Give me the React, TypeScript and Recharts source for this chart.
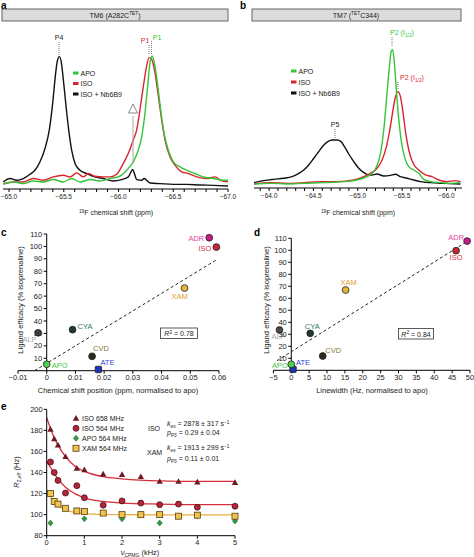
import React from 'react';
import {
	LineChart,
	Line,
	XAxis,
	YAxis,
	ScatterChart,
	Scatter,
	ComposedChart,
	ReferenceLine,
} from 'recharts';

const FONT = '"Liberation Sans", Arial, Helvetica, sans-serif';
const GREEN = '#35c43a';
const RED = '#d8252c';
const BLACK = '#111111';

// panel a: TM6 (A282C-TET) spectra, ppm vs intensity (% of tallest peak)
const aApoPpm = [-64.948, -65.04, -65.131, -65.222, -65.314, -65.405, -65.496, -65.572, -65.648, -65.74, -65.831, -65.922, -65.998, -66.075, -66.135, -66.181, -66.212, -66.242, -66.266, -66.288, -66.306, -66.327, -66.355, -66.385, -66.416, -66.455, -66.501, -66.562, -66.623, -66.699, -66.775, -66.866, -66.957, -67.003];
const aApoInt = [-1.9, 0, -1.3, 0.8, 0, 1.9, 0, 2.7, 0, 1.9, 0.8, 2.7, 4, 9.3, 16, 25.3, 36, 54.7, 76, 94.7, 100, 94.7, 78.7, 57.3, 38.7, 25.3, 16, 12, 9.3, 6.7, 4, 2.7, 1.3, 1.3];
const aIsoPpm = [-64.948, -65.04, -65.131, -65.222, -65.314, -65.405, -65.496, -65.557, -65.618, -65.679, -65.725, -65.785, -65.861, -65.922, -65.983, -66.044, -66.09, -66.135, -66.166, -66.196, -66.227, -66.257, -66.279, -66.303, -66.333, -66.364, -66.394, -66.425, -66.47, -66.516, -66.577, -66.638, -66.714, -66.805, -66.881, -66.942, -67.003];
const aIsoInt = [-1.3, 0, 0, 2.7, 1.3, 4, 5.3, 4, 7.2, 4, 6.7, 4.5, 4, 4, 6.1, 14.7, 22.7, 33.3, 41.3, 57.3, 76, 92, 98.7, 97.3, 86.7, 68, 49.3, 33.3, 20, 13.3, 8, 6.7, 4, 2.7, 4, 0.8, 0];
const aNbPpm = [-64.948, -65.009, -65.07, -65.131, -65.192, -65.237, -65.283, -65.329, -65.368, -65.399, -65.423, -65.441, -65.46, -65.478, -65.496, -65.521, -65.545, -65.572, -65.603, -65.648, -65.709, -65.785, -65.861, -65.953, -66.029, -66.09, -66.114, -66.129, -66.145, -66.166, -66.212, -66.233, -66.288, -66.379, -66.501, -66.623, -66.744, -66.866, -67.003];
const aNbInt = [0, 2.7, 1.3, 2.7, 6.1, 9.3, 16, 26.7, 41.3, 62.7, 84, 96, 99.5, 94.7, 81.3, 60, 41.3, 25.3, 14.7, 9.3, 6.7, 4, 2.7, 0.8, 1.9, 4, 8, 9.9, 6.7, 1.9, 1.3, 2.7, -0.8, -1.3, -1.9, -1.9, -2.4, -2.7, -3.2];
const aTicks = [-65.0, -65.1, -65.2, -65.3, -65.4, -65.5, -65.6, -65.7, -65.8, -65.9, -66.0, -66.1, -66.2, -66.3, -66.4, -66.5, -66.6, -66.7, -66.8, -66.9, -67.0];

// panel b: TM7 (TET-C344) spectra
const bApoPpm = [-63.83, -64.015, -64.203, -64.391, -64.617, -64.842, -64.992, -65.105, -65.162, -65.211, -65.256, -65.293, -65.323, -65.353, -65.376, -65.391, -65.41, -65.432, -65.459, -65.489, -65.526, -65.575, -65.632, -65.688, -65.744, -65.82, -65.932, -66.045, -66.158];
const bApoInt = [-1, -0.5, -1, -0.5, 0, 0.8, 2, 4.5, 7, 12, 22, 39.5, 62, 84.5, 98.3, 100, 92, 72, 49.5, 32, 19.5, 12, 9.5, 7, 2.5, 0.8, 0, -0.5, 0];
const bIsoPpm = [-63.83, -64.015, -64.203, -64.391, -64.579, -64.767, -64.955, -65.068, -65.143, -65.218, -65.274, -65.323, -65.361, -65.391, -65.421, -65.455, -65.481, -65.511, -65.541, -65.575, -65.624, -65.688, -65.763, -65.838, -65.914, -66.008, -66.102, -66.158];
const bIsoInt = [-1, 0, -0.5, 0, 0.8, 0.8, 2, 4.5, 7, 10.8, 17, 27, 39.5, 52, 63.3, 68.3, 64.5, 52, 37, 24.5, 14.5, 9.5, 5.8, 4.5, 2, 0.8, 1.5, 0.8];
const bNbPpm = [-63.83, -63.94, -64.053, -64.165, -64.259, -64.335, -64.391, -64.447, -64.504, -64.56, -64.617, -64.662, -64.711, -64.767, -64.812, -64.85, -64.898, -64.955, -65.011, -65.068, -65.143, -65.218, -65.293, -65.368, -65.425, -65.481, -65.556, -65.632, -65.707, -65.82, -65.97, -66.158];
const bNbInt = [0, 1.5, 2.5, 3.3, 4.5, 7, 9.5, 13.3, 18.3, 23.3, 28.3, 30.8, 32, 32, 30.8, 27, 21.5, 15.8, 10.8, 7.5, 5.5, 6.5, 5, 5.5, 6.3, 4.5, 3.3, 2, 0.8, 0, -0.5, -1];
const bTicks = [-63.9, -64.0, -64.1, -64.2, -64.3, -64.4, -64.5, -64.6, -64.7, -64.8, -64.9, -65.0, -65.1, -65.2, -65.3, -65.4, -65.5, -65.6, -65.7, -65.8, -65.9, -66.0, -66.1];

// panels c, d: ligand efficacy
const compounds = ['ADR', 'ISO', 'XAM', 'CYA', 'ALP', 'CVD', 'ATE', 'APO'];
const cShift = [0.0566, 0.0591, 0.048, 0.009, -0.003, 0.0158, 0.018, 0];
const cEfficacy = [107, 99.5, 66.5, 33, 30.5, 11.6, 1, 5.2];
const dLinewidth = [49.2, 46.1, 15.2, 5.3, -3.3, 8.8, 0.5, 0];
const dEfficacy = [107.7, 99.7, 66.9, 30.8, 33.6, 11.9, 0.8, 5];
const cFitX = [-0.0042, 0.059];
const cFitY = [0, 89];
const dFitX = [-4, 49.5];
const dFitY = [8, 108];
const cXTicks = [-0.01, 0, 0.01, 0.02, 0.03, 0.04, 0.05, 0.06];
const dXTicks = [-5, 0, 5, 10, 15, 20, 25, 30, 35, 40, 45, 50];
const effTicks = [10, 20, 30, 40, 50, 60, 70, 80, 90, 100, 110];

// panel e: relaxation dispersion
const eNu = [0.1, 0.2, 0.3, 0.5, 0.8, 1, 1.5, 2, 2.5, 3, 3.5, 4, 5];
const iso658 = [181, 172, 166, 155, 144, 142.5, 138.5, 138, 136, 131.5, 131.5, 131, 130.5];
const iso564 = [150, 140, 132.5, 120.5, 127.5, 116, 109, 113, 111, 109.5, 110, 107, 108];
const xam564 = [120, 112.5, 110, 106, 103.5, 103, 101.5, 100, 100, 100, 98.5, 99.5, 98.5];
const apoNu = [0.1, 1, 2, 3, 4, 5];
const apo564 = [92, 96, 96, 92, 99, 94];
const fitNu = [0, 0.1, 0.2, 0.3, 0.5, 0.75, 1, 1.5, 2, 3, 4, 5];
const fit658 = [192, 182, 173, 166, 155, 146, 141, 136, 134, 132, 131.5, 131.5];
const fit564 = [150, 145, 139, 134, 126, 120, 116, 112.5, 111, 110, 109.5, 109.5];
const fitXam = [122, 117, 112.5, 109, 104.5, 102, 101, 100.2, 100, 99.8, 99.7, 99.7];
const eXTicks = [0, 1, 2, 3, 4, 5];
const eYTicks = [80, 100, 120, 140, 160, 180, 200];

const toPoints = (xs: number[], ys: number[]) => xs.map((x, i) => ({ x, y: ys[i] }));

const compoundStyle: Record<string, { fill: string; label: string; square?: boolean }> = {
	ADR: { fill: '#c41e86', label: '#e33ea4' },
	ISO: { fill: '#c42636', label: '#dd3040' },
	XAM: { fill: '#e8b440', label: '#e0a030' },
	CYA: { fill: '#24382c', label: '#2e7a58' },
	ALP: { fill: '#4a4a4a', label: '#a8a8a8' },
	CVD: { fill: '#2e2a1a', label: '#8a7838' },
	ATE: { fill: '#1f32b8', label: '#2a44d8', square: true },
	APO: { fill: '#52d052', label: '#44c444' },
};

type LabelPos = { dx: number; dy: number; anchor: 'start' | 'middle' | 'end' };
const cLabelPos: Record<string, LabelPos> = {
	ADR: { dx: -5, dy: 3, anchor: 'end' },
	ISO: { dx: -5, dy: 4, anchor: 'end' },
	XAM: { dx: -5, dy: 11, anchor: 'middle' },
	CYA: { dx: 5, dy: -1, anchor: 'start' },
	ALP: { dx: -1.5, dy: 9, anchor: 'end' },
	CVD: { dx: 1, dy: -5.5, anchor: 'start' },
	ATE: { dx: 2, dy: -4.5, anchor: 'start' },
	APO: { dx: 5, dy: 3.5, anchor: 'start' },
};
const dLabelPos: Record<string, LabelPos> = {
	ADR: { dx: -3, dy: -1, anchor: 'end' },
	ISO: { dx: 0, dy: 9, anchor: 'middle' },
	XAM: { dx: 3, dy: -5, anchor: 'middle' },
	CYA: { dx: 2, dy: -4, anchor: 'middle' },
	ALP: { dx: -1, dy: 9, anchor: 'middle' },
	CVD: { dx: 2.5, dy: -3.5, anchor: 'start' },
	APO: { dx: -3.5, dy: 4, anchor: 'end' },
	ATE: { dx: 3, dy: -4, anchor: 'start' },
};

const ppmLabel = (v: number) => {
	const h = v * 2;
	return Math.abs(h - Math.round(h)) < 1e-6 ? `\u2212${Math.abs(v).toFixed(1)}` : '';
};
const signed = (digits: number) => (v: number) =>
	v === 0 ? '0' : `${v < 0 ? '\u2212' : ''}${Math.abs(v).toFixed(digits)}`;

type Trace = { xs: number[]; ys: number[]; color: string };

const Spectrum = ({
	left,
	width,
	margin,
	domain,
	yDomain,
	ticks,
	axisHeight,
	traces,
}: {
	left: number;
	width: number;
	margin: { top: number; right: number; bottom: number; left: number };
	domain: [number, number];
	yDomain: [number, number];
	ticks: number[];
	axisHeight: number;
	traces: Trace[];
}) => (
	<div style={{ position: 'absolute', left, top: 0 }}>
		<LineChart width={width} height={225} margin={margin}>
			<XAxis
				type='number'
				dataKey='x'
				domain={domain}
				reversed
				allowDataOverflow
				ticks={ticks}
				interval={0}
				tickFormatter={ppmLabel}
				height={axisHeight}
				stroke='#000'
				tickSize={3}
				tickMargin={2}
				tick={{ fontSize: 6.5, fill: '#222' }}
			/>
			<YAxis hide type='number' dataKey='y' domain={yDomain} allowDataOverflow />
			{traces.map((t, i) => (
				<Line
					key={i}
					data={toPoints(t.xs, t.ys)}
					dataKey='y'
					type='monotone'
					stroke={t.color}
					strokeWidth={1.4}
					dot={false}
					isAnimationActive={false}
				/>
			))}
		</LineChart>
	</div>
);

// y axis of c/d sits at x = 0, not at the left edge of the plot
const makeYTick = (axisX: number) => (props: any) => {
	const { y, payload } = props;
	return (
		<g>
			<line x1={axisX - 3} x2={axisX} y1={y} y2={y} stroke='#000' />
			<text x={axisX - 4.5} y={y} dy='0.35em' textAnchor='end' fontSize={7.5} fill='#222'>
				{payload.value}
			</text>
		</g>
	);
};

const makeCompoundShape = (pos: Record<string, LabelPos>) => (props: any) => {
	const { cx, cy, payload } = props;
	const s = compoundStyle[payload.name];
	const p = pos[payload.name];
	return (
		<g>
			{s.square ? (
				<rect x={cx - 3.2} y={cy - 3.2} width={6.4} height={6.4} rx={1} fill={s.fill} stroke='#222' strokeWidth={0.8} />
			) : (
				<circle cx={cx} cy={cy} r={3.4} fill={s.fill} stroke='#222' strokeWidth={0.8} />
			)}
			<text x={cx + p.dx} y={cy + p.dy} textAnchor={p.anchor} fontSize={7.5} fill={s.label}>
				{payload.name}
			</text>
		</g>
	);
};

const EfficacyScatter = ({
	left,
	width,
	margin,
	xDomain,
	xTicks,
	xFormat,
	plotLeft,
	plotWidth,
	xs,
	ys,
	fitX,
	fitY,
	labelPos,
}: {
	left: number;
	width: number;
	margin: { top: number; right: number; bottom: number; left: number };
	xDomain: [number, number];
	xTicks: number[];
	xFormat: (v: number) => string;
	plotLeft: number;
	plotWidth: number;
	xs: number[];
	ys: number[];
	fitX: number[];
	fitY: number[];
	labelPos: Record<string, LabelPos>;
}) => {
	const axisX = plotLeft + ((0 - xDomain[0]) / (xDomain[1] - xDomain[0])) * plotWidth;
	const pts = compounds.map((name, i) => ({ name, x: xs[i], y: ys[i] }));
	return (
		<div style={{ position: 'absolute', left, top: 225 }}>
			<ScatterChart width={width} height={175} margin={margin}>
				<XAxis
					type='number'
					dataKey='x'
					domain={xDomain}
					ticks={xTicks}
					interval={0}
					tickFormatter={xFormat}
					height={20}
					stroke='#000'
					tickSize={3}
					tickMargin={1}
					tick={{ fontSize: 7.5, fill: '#222' }}
				/>
				<YAxis
					type='number'
					dataKey='y'
					domain={[0, 110]}
					ticks={effTicks}
					interval={0}
					width={10}
					axisLine={false}
					tickLine={false}
					tick={makeYTick(axisX)}
				/>
				<ReferenceLine x={0} stroke='#000' strokeWidth={1} ifOverflow='visible' />
				<ReferenceLine
					segment={[
						{ x: fitX[0], y: fitY[0] },
						{ x: fitX[1], y: fitY[1] },
					]}
					stroke='#222'
					strokeDasharray='3 2.5'
					strokeWidth={1}
					ifOverflow='visible'
				/>
				<Scatter data={pts} shape={makeCompoundShape(labelPos)} isAnimationActive={false} />
			</ScatterChart>
		</div>
	);
};

type MarkerKind = 'triangle' | 'circle' | 'diamond' | 'square';
const Marker = ({ kind, cx, cy }: { kind: MarkerKind; cx: number; cy: number }) => {
	if (kind === 'triangle')
		return <polygon points={`${cx},${cy - 3.3} ${cx - 3.2},${cy + 2.4} ${cx + 3.2},${cy + 2.4}`} fill='#6e1a22' />;
	if (kind === 'circle')
		return <circle cx={cx} cy={cy} r={3} fill='#b3263a' stroke='#3a0a10' strokeWidth={0.7} />;
	if (kind === 'diamond')
		return <polygon points={`${cx},${cy - 3} ${cx + 2.6},${cy} ${cx},${cy + 3} ${cx - 2.6},${cy}`} fill='#2f9a3f' stroke='#1a5a20' strokeWidth={0.5} />;
	return <rect x={cx - 3} y={cy - 3} width={6} height={6} fill='#f0c24e' stroke='#5a3e0c' strokeWidth={0.8} />;
};
const markerShape = (kind: MarkerKind) => (props: any) => <Marker kind={kind} cx={props.cx} cy={props.cy} />;

const Dispersion = () => (
	<div style={{ position: 'absolute', left: 0, top: 400 }}>
		<ComposedChart width={240} height={157} margin={{ top: 9.3, right: 5, bottom: 0, left: 16.7 }}>
			<XAxis
				type='number'
				dataKey='x'
				domain={[0, 5]}
				ticks={eXTicks}
				interval={0}
				height={21.3}
				stroke='#000'
				tickSize={3}
				tickMargin={1}
				tick={{ fontSize: 7.5, fill: '#222' }}
			/>
			<YAxis
				type='number'
				dataKey='y'
				domain={[80, 200]}
				ticks={eYTicks}
				interval={0}
				width={30}
				stroke='#000'
				tickSize={3}
				tickMargin={1}
				tick={{ fontSize: 7.5, fill: '#222' }}
			/>
			<Line data={toPoints(fitNu, fit658)} dataKey='y' type='monotone' stroke='#d62d3c' strokeWidth={1.3} dot={false} isAnimationActive={false} />
			<Line data={toPoints(fitNu, fit564)} dataKey='y' type='monotone' stroke='#d62d3c' strokeWidth={1.3} dot={false} isAnimationActive={false} />
			<Line data={toPoints(fitNu, fitXam)} dataKey='y' type='monotone' stroke='#eab040' strokeWidth={1.3} dot={false} isAnimationActive={false} />
			<Scatter data={toPoints(eNu, iso658)} shape={markerShape('triangle')} isAnimationActive={false} />
			<Scatter data={toPoints(eNu, iso564)} shape={markerShape('circle')} isAnimationActive={false} />
			<Scatter data={toPoints(apoNu, apo564)} shape={markerShape('diamond')} isAnimationActive={false} />
			<Scatter data={toPoints(eNu, xam564)} shape={markerShape('square')} isAnimationActive={false} />
		</ComposedChart>
	</div>
);

const Dotted = ({ x, y1, y2 }: { x: number; y1: number; y2: number }) => (
	<line x1={x} x2={x} y1={y1} y2={y2} stroke='#555' strokeWidth={0.8} strokeDasharray='1 1' />
);

const LegendRow = ({ x, y, color, text }: { x: number; y: number; color: string; text: string }) => (
	<g>
		<rect x={x} y={y - 1.5} width={5.5} height={3} fill={color} />
		<text x={x + 7.5} y={y + 2.5} fontSize={7} fill='#222'>
			{text}
		</text>
	</g>
);

const Overlay = () => (
	<svg width={474} height={557} style={{ position: 'absolute', left: 0, top: 0, pointerEvents: 'none' }}>
		<g fontFamily={FONT}>
			{/* panel a */}
			<text x={1} y={9} fontSize={10} fontWeight='bold'>a</text>
			<rect x={2} y={9} width={226} height={12} fill='#dcdcdc' stroke='#444' strokeWidth={0.8} />
			<text x={115} y={17.8} fontSize={7} textAnchor='middle' fill='#222'>
				TM6 (A282C<tspan dy={-2.5} fontSize={4.8}>TET</tspan><tspan dy={2.5}>)</tspan>
			</text>
			<LegendRow x={73} y={73} color={GREEN} text='APO' />
			<LegendRow x={73} y={83.5} color={RED} text='ISO' />
			<LegendRow x={73} y={94} color={BLACK} text='ISO + Nb6B9' />
			<text x={59} y={40} fontSize={7} textAnchor='middle' fill='#222'>P4</text>
			<Dotted x={59} y1={42} y2={55} />
			<text x={145} y={43} fontSize={7} textAnchor='middle' fill={RED}>P1</text>
			<Dotted x={149} y1={45} y2={55} />
			<text x={157} y={39.5} fontSize={7} textAnchor='middle' fill={GREEN}>P1</text>
			<Dotted x={151.5} y1={41} y2={55} />
			<polygon points='133,104 128.5,113 137.5,113' fill='#fff' stroke='#888' strokeWidth={1} />
			<line x1={133} x2={133} y1={116} y2={164} stroke='#aaa' strokeWidth={1} />
			<text x={116} y={215} fontSize={7} textAnchor='middle' fill='#222'>
				<tspan dy={-2.5} fontSize={4.8}>19</tspan><tspan dy={2.5}>F chemical shift (ppm)</tspan>
			</text>

			{/* panel b */}
			<text x={240} y={9} fontSize={10} fontWeight='bold'>b</text>
			<rect x={252} y={9} width={209} height={12} fill='#dcdcdc' stroke='#444' strokeWidth={0.8} />
			<text x={356} y={17.8} fontSize={7} textAnchor='middle' fill='#222'>
				TM7 (<tspan dy={-2.5} fontSize={4.8}>TET</tspan><tspan dy={2.5}>C344)</tspan>
			</text>
			<LegendRow x={291} y={71} color={GREEN} text='APO' />
			<LegendRow x={291} y={82} color={RED} text='ISO' />
			<LegendRow x={291} y={93} color={BLACK} text='ISO + Nb6B9' />
			<text x={402} y={35} fontSize={7} textAnchor='middle' fill={GREEN}>
				P2 (I<tspan dy={1.5} fontSize={4.8}>1/2</tspan><tspan dy={-1.5}>)</tspan>
			</text>
			<Dotted x={392} y1={37} y2={47} />
			<text x={412} y={80} fontSize={7} textAnchor='middle' fill={RED}>
				P2 (I<tspan dy={1.5} fontSize={4.8}>1/2</tspan><tspan dy={-1.5}>)</tspan>
			</text>
			<Dotted x={398} y1={82} y2={90} />
			<text x={335} y={127} fontSize={7} textAnchor='middle' fill='#222'>P5</text>
			<Dotted x={335} y1={129} y2={140} />
			<text x={358} y={215} fontSize={7} textAnchor='middle' fill='#222'>
				<tspan dy={-2.5} fontSize={4.8}>19</tspan><tspan dy={2.5}>F chemical shift (ppm)</tspan>
			</text>

			{/* panel c */}
			<text x={1} y={236} fontSize={10} fontWeight='bold'>c</text>
			<text transform='translate(23,300) rotate(-90)' fontSize={7.6} textAnchor='middle' fill='#222'>
				Ligand efficacy (% isoprenaline)
			</text>
			<text x={118} y={393} fontSize={7.5} textAnchor='middle' fill='#222'>
				Chemical shift position (ppm, normalised to apo)
			</text>
			<rect x={160.5} y={328} width={37} height={10.5} fill='#fff' stroke='#333' strokeWidth={0.8} />
			<text x={179} y={336} fontSize={7} textAnchor='middle' fill='#222'>
				<tspan fontStyle='italic'>R</tspan><tspan dy={-2.5} fontSize={4.8}>2</tspan><tspan dy={2.5}> = 0.78</tspan>
			</text>

			{/* panel d */}
			<text x={254} y={236} fontSize={10} fontWeight='bold'>d</text>
			<text transform='translate(269,300) rotate(-90)' fontSize={7.6} textAnchor='middle' fill='#222'>
				Ligand efficacy (% isoprenaline)
			</text>
			<text x={372} y={393} fontSize={7.5} textAnchor='middle' fill='#222'>
				Linewidth (Hz, normalised to apo)
			</text>
			<rect x={398.5} y={328.5} width={35} height={10.5} fill='#fff' stroke='#333' strokeWidth={0.8} />
			<text x={416} y={336.5} fontSize={7} textAnchor='middle' fill='#222'>
				<tspan fontStyle='italic'>R</tspan><tspan dy={-2.5} fontSize={4.8}>2</tspan><tspan dy={2.5}> = 0.84</tspan>
			</text>

			{/* panel e */}
			<text x={1} y={410} fontSize={10} fontWeight='bold'>e</text>
			<text transform='translate(19,472) rotate(-90)' fontSize={7.5} textAnchor='middle' fill='#222'>
				<tspan fontStyle='italic'>R</tspan><tspan dy={1.5} fontSize={5}>2,eff</tspan><tspan dy={-1.5}> (Hz)</tspan>
			</text>
			<text x={140} y={555} fontSize={7.5} textAnchor='middle' fill='#222'>
				<tspan fontStyle='italic'>ν</tspan><tspan dy={1.5} fontSize={5}>CPMG</tspan><tspan dy={-1.5}> (kHz)</tspan>
			</text>
			<Marker kind='triangle' cx={76} cy={418.3} />
			<Marker kind='circle' cx={76} cy={428.3} />
			<Marker kind='diamond' cx={76} cy={438.3} />
			<Marker kind='square' cx={76} cy={448.3} />
			<text x={82} y={420.8} fontSize={7} fill='#222'>ISO 658 MHz</text>
			<text x={82} y={430.8} fontSize={7} fill='#222'>ISO 564 MHz</text>
			<text x={82} y={440.8} fontSize={7} fill='#222'>APO 564 MHz</text>
			<text x={82} y={450.8} fontSize={7} fill='#222'>XAM 564 MHz</text>
			<text x={148} y={431} fontSize={7} fill='#222'>ISO</text>
			<text x={167} y={426} fontSize={7} fill='#222'>
				<tspan fontStyle='italic'>k</tspan><tspan dy={1.5} fontSize={4.8}>ex</tspan><tspan dy={-1.5}> = 2878 ± 317 s</tspan><tspan dy={-2.5} fontSize={4.8}>−1</tspan>
			</text>
			<text x={167} y={435} fontSize={7} fill='#222'>
				<tspan fontStyle='italic'>p</tspan><tspan dy={1.5} fontSize={4.8}>P3</tspan><tspan dy={-1.5}> = 0.29 ± 0.04</tspan>
			</text>
			<text x={147} y={454.5} fontSize={7} fill='#222'>XAM</text>
			<text x={167} y={450} fontSize={7} fill='#222'>
				<tspan fontStyle='italic'>k</tspan><tspan dy={1.5} fontSize={4.8}>ex</tspan><tspan dy={-1.5}> = 1913 ± 299 s</tspan><tspan dy={-2.5} fontSize={4.8}>−1</tspan>
			</text>
			<text x={167} y={461} fontSize={7} fill='#222'>
				<tspan fontStyle='italic'>p</tspan><tspan dy={1.5} fontSize={4.8}>P3</tspan><tspan dy={-1.5}> = 0.11 ± 0.01</tspan>
			</text>
		</g>
	</svg>
);

const App = () => (
	<div
		style={{
			position: 'absolute',
			left: 0,
			top: 0,
			width: 474,
			height: 557,
			overflow: 'hidden',
			background: '#fff',
			fontFamily: FONT,
		}}>
		<Spectrum
			left={0}
			width={237}
			margin={{ top: 30, right: 9, bottom: 0, left: 3 }}
			domain={[-67.0, -64.945]}
			yDomain={[-5.6, 120.6]}
			ticks={aTicks}
			axisHeight={36}
			traces={[
				{ xs: aNbPpm, ys: aNbInt, color: BLACK },
				{ xs: aIsoPpm, ys: aIsoInt, color: RED },
				{ xs: aApoPpm, ys: aApoInt, color: GREEN },
			]}
		/>
		<Spectrum
			left={237}
			width={237}
			margin={{ top: 30, right: 12, bottom: 0, left: 17 }}
			domain={[-66.175, -63.83]}
			yDomain={[-4, 114.5]}
			ticks={bTicks}
			axisHeight={37}
			traces={[
				{ xs: bNbPpm, ys: bNbInt, color: BLACK },
				{ xs: bIsoPpm, ys: bIsoInt, color: RED },
				{ xs: bApoPpm, ys: bApoInt, color: GREEN },
			]}
		/>
		<EfficacyScatter
			left={0}
			width={237}
			margin={{ top: 9, right: 18, bottom: 9.3, left: 8 }}
			xDomain={[-0.01, 0.06]}
			xTicks={cXTicks}
			xFormat={signed(2)}
			plotLeft={18}
			plotWidth={201}
			xs={cShift}
			ys={cEfficacy}
			fitX={cFitX}
			fitY={cFitY}
			labelPos={cLabelPos}
		/>
		<EfficacyScatter
			left={237}
			width={237}
			margin={{ top: 13.3, right: 4, bottom: 9.7, left: 26.4 }}
			xDomain={[-5, 50]}
			xTicks={dXTicks}
			xFormat={signed(0)}
			plotLeft={36.4}
			plotWidth={196.6}
			xs={dLinewidth}
			ys={dEfficacy}
			fitX={dFitX}
			fitY={dFitY}
			labelPos={dLabelPos}
		/>
		<Dispersion />
		<Overlay />
	</div>
);

export default App;
